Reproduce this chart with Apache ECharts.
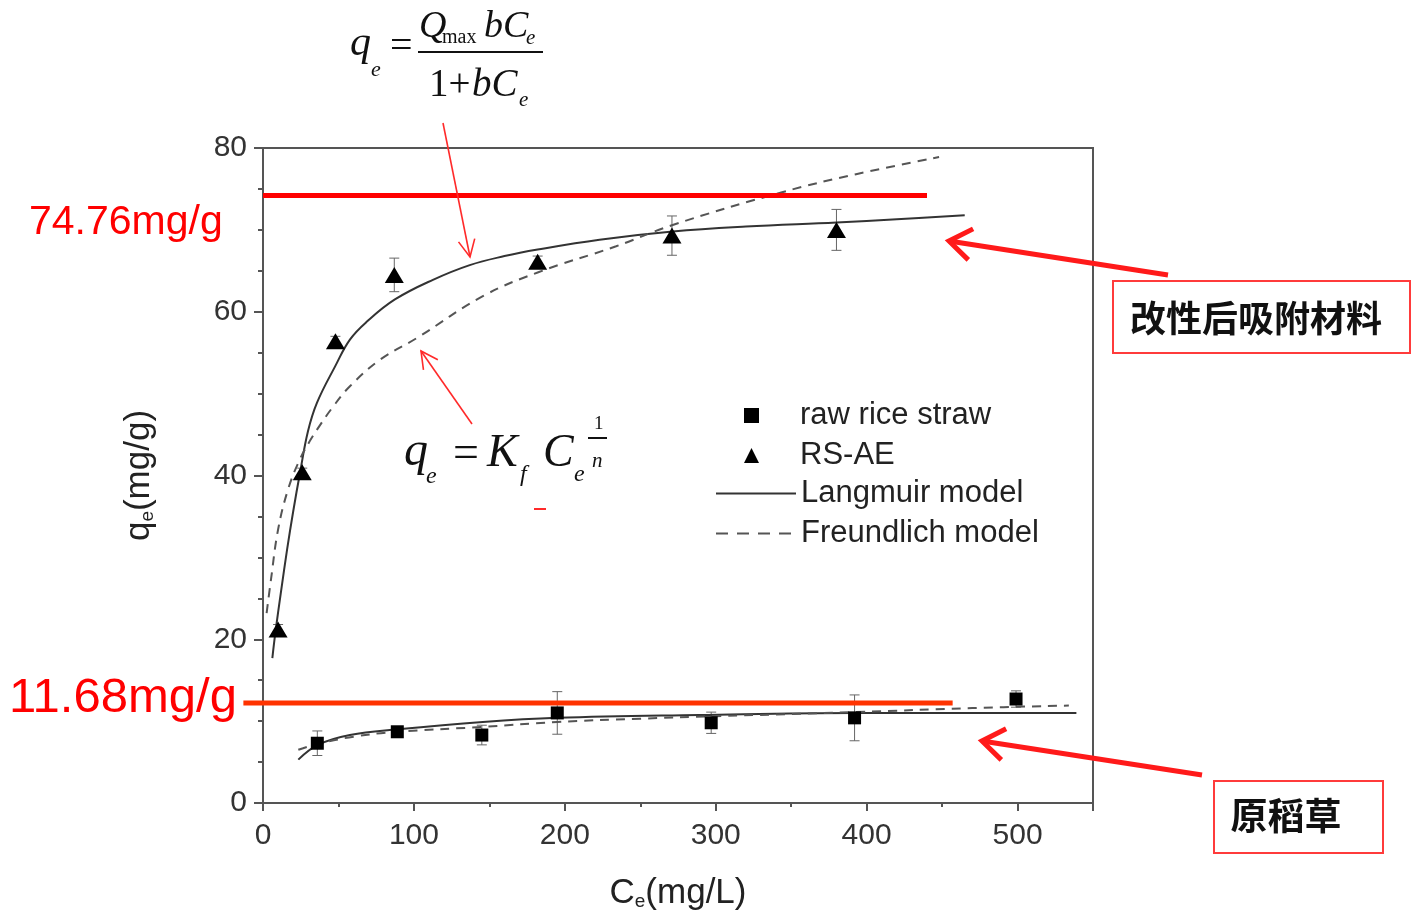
<!DOCTYPE html>
<html><head><meta charset="utf-8">
<script src="https://cdn.jsdelivr.net/npm/echarts@6/dist/echarts.min.js"></script>
<style>html,body{margin:0;padding:0;background:#fff}#c{width:1412px;height:922px}</style>
</head><body><div id="c"></div>
<script>
// ---- measured data ----
const rawCe  = [36, 89, 145, 195, 297, 392, 499];
const rawQe  = [7.3, 8.7, 8.3, 11.0, 9.8, 10.4, 12.7];
const rawErr = [1.5, 0.6, 1.2, 2.6, 1.3, 2.8, 1.0];

const rsCe  = [10, 26, 48, 87, 182, 271, 380];
const rsQe  = [21.2, 40.4, 56.4, 64.5, 66.1, 69.3, 70.0];
const rsErr = [0.6, 0.5, 0.6, 2.05, 0.7, 2.4, 2.5];

const langRsCe = [6.2, 8.4, 12, 16, 20, 24.5, 29.8, 35.8, 47.7, 57.6, 68.9, 87.4, 112.6, 137, 160, 182, 223, 271.5, 320, 380, 420, 465];
const langRsQe = [17.7, 21.1, 25.9, 31.0, 35.6, 40.3, 45.4, 48.9, 53.3, 56.6, 58.8, 61.5, 63.9, 65.7, 66.8, 67.6, 68.8, 69.8, 70.4, 70.9, 71.3, 71.8];

const freRsCe = [2.4, 5.3, 10, 16.6, 24, 31, 35.8, 46, 57.6, 78, 102, 145.7, 182, 234, 271.5, 344, 393, 448];
const freRsQe = [23.2, 27.3, 33.4, 38.3, 41.8, 44.2, 45.6, 48.3, 50.9, 54.2, 56.8, 61.9, 64.8, 68.0, 70.6, 74.6, 76.8, 78.9];

const langRawCe = [23.4, 36.4, 57.6, 89.4, 145.7, 194.7, 289, 392, 539];
const langRawQe = [5.3, 7.1, 8.3, 9.0, 9.9, 10.4, 10.75, 11.0, 11.0];

const freRawCe = [23.4, 36, 60, 89, 146, 195, 250, 300, 392, 470, 534];
const freRawQe = [6.5, 7.2, 8.1, 8.7, 9.3, 9.9, 10.3, 10.6, 11.1, 11.6, 11.9];

// annotation lines (data space): [x1, y1, x2, y2]
const qmaxRsLine  = [0, 74.2, 440, 74.2];
const qmaxRawLine = [-13, 12.2, 457, 12.2];

const xTicks = { min: 0, max: 550, interval: 100 };
const yTicks = { min: 0, max: 80, interval: 20 };

const zip = (a, b) => a.map((v, i) => [v, b[i]]);

const chart = echarts.init(document.getElementById('c'), null, { renderer: 'canvas' });

function errSeries(ce, q, err, name) {
  return {
    type: 'custom', name: name, silent: true, z: 1,
    encode: { x: 0, y: [1, 2] },
    data: ce.map((c, i) => [c, q[i] - err[i], q[i] + err[i]]),
    renderItem: function (params, api) {
      const lo = api.coord([api.value(0), api.value(1)]);
      const hi = api.coord([api.value(0), api.value(2)]);
      const w = 5, st = { stroke: '#666', lineWidth: 1 };
      return { type: 'group', children: [
        { type: 'line', shape: { x1: lo[0], y1: lo[1], x2: hi[0], y2: hi[1] }, style: st },
        { type: 'line', shape: { x1: lo[0] - w, y1: lo[1], x2: lo[0] + w, y2: lo[1] }, style: st },
        { type: 'line', shape: { x1: hi[0] - w, y1: hi[1], x2: hi[0] + w, y2: hi[1] }, style: st }
      ]};
    }
  };
}

function hLineSeries(name, seg, color) {
  return {
    type: 'custom', name: name, silent: true, z: 6, clip: false,
    encode: { x: [0, 2], y: [1, 3] },
    data: [seg],
    renderItem: function (params, api) {
      const a = api.coord([api.value(0), api.value(1)]);
      const b = api.coord([api.value(2), api.value(3)]);
      return { type: 'line', shape: { x1: a[0], y1: a[1], x2: b[0], y2: b[1] }, style: { stroke: color, lineWidth: 5 } };
    }
  };
}

function lineSeries(name, ce, q, dashed) {
  return {
    type: 'line', name: name, data: zip(ce, q), symbol: 'none', smooth: 0.4,
    z: 3, silent: true,
    itemStyle: { color: dashed ? '#555' : '#333' },
    lineStyle: { color: dashed ? '#555' : '#333', width: 2, type: dashed ? [9, 7] : 'solid' }
  };
}

function arrow(x1, y1, x2, y2, w, head, ang, color) {
  const a = Math.atan2(y2 - y1, x2 - x1);
  const p1 = [x2 - head * Math.cos(a - ang), y2 - head * Math.sin(a - ang)];
  const p2 = [x2 - head * Math.cos(a + ang), y2 - head * Math.sin(a + ang)];
  return [
    { type: 'line', shape: { x1: x1, y1: y1, x2: x2, y2: y2 }, style: { stroke: color, lineWidth: w }, z: 100 },
    { type: 'polyline', shape: { points: [p1, [x2, y2], p2] }, style: { stroke: color, lineWidth: w, fill: null, lineJoin: 'miter' }, z: 100 }
  ];
}

const serif = '"Liberation Serif", "DejaVu Serif", serif';
// y = visual middle of the em box
function t(x, y, text, size, italic) {
  return {
    type: 'text', x: x, y: y, z: 100,
    style: { text: text, fontFamily: serif, fontSize: size, fontStyle: italic ? 'italic' : 'normal',
      fill: '#111', verticalAlign: 'middle', align: 'left' }
  };
}

const graphics = [].concat(
  // formula 1 (Langmuir)
  [
    t(350, 44, 'q', 42, true), t(371, 70, 'e', 22, true),
    t(390, 47, '=', 40, false),
    t(419, 27, 'Q', 38, true), t(442, 38, 'max', 20, false),
    t(484, 27, 'bC', 38, true), t(526, 38, 'e', 21, true),
    { type: 'line', shape: { x1: 418, y1: 52, x2: 543, y2: 52 }, style: { stroke: '#111', lineWidth: 2 }, z: 100 },
    t(429, 86, '1+', 39, false), t(472, 86, 'bC', 39, true), t(519, 100, 'e', 21, true)
  ],
  // formula 2 (Freundlich)
  [
    t(404, 452, 'q', 48, true), t(426, 477, 'e', 24, true),
    t(453, 455, '=', 46, false),
    t(487, 454, 'K', 46, true), t(520, 475, 'f', 24, true),
    t(543, 454, 'C', 46, true), t(574, 475, 'e', 24, true),
    t(594, 424, '1', 19, false),
    { type: 'line', shape: { x1: 588, y1: 438, x2: 607, y2: 438 }, style: { stroke: '#111', lineWidth: 2 }, z: 100 },
    t(592, 461, 'n', 21, true),
    { type: 'line', shape: { x1: 534, y1: 509, x2: 546, y2: 509 }, style: { stroke: '#ff2a2a', lineWidth: 2 }, z: 100 }
  ],
  // value labels
  [
    { type: 'text', x: 29, y: 223, z: 100, style: { text: '74.76mg/g', fontFamily: '"Liberation Sans", Arial, sans-serif', fontSize: 41, fill: '#ff0000', verticalAlign: 'middle' } },
    { type: 'text', x: 9, y: 698, z: 100, style: { text: '11.68mg/g', fontFamily: '"Liberation Sans", Arial, sans-serif', fontSize: 49, fill: '#ff0000', verticalAlign: 'middle' } }
  ],
  // boxes
  [
    { type: 'rect', shape: { x: 1113, y: 281, width: 297, height: 72 }, style: { fill: '#fff', stroke: '#ff3b3b', lineWidth: 2 }, z: 90 },
    { type: 'text', x: 1256, y: 318, z: 100, style: { text: '改性后吸附材料', fontFamily: '"Noto Sans CJK SC", sans-serif', fontWeight: 'bold', fontSize: 36, fill: '#111', align: 'center', verticalAlign: 'middle' } },
    { type: 'rect', shape: { x: 1214, y: 781, width: 169, height: 72 }, style: { fill: '#fff', stroke: '#ff3b3b', lineWidth: 2 }, z: 90 },
    { type: 'text', x: 1286, y: 816, z: 100, style: { text: '原稻草', fontFamily: '"Noto Sans CJK SC", sans-serif', fontWeight: 'bold', fontSize: 37, fill: '#111', align: 'center', verticalAlign: 'middle' } }
  ],
  arrow(1168, 275, 949, 241, 5, 27, 0.62, '#ff1a1a'),
  arrow(1202, 775, 982, 741, 5, 27, 0.62, '#ff1a1a'),
  arrow(443, 123, 470, 257, 1.6, 19, 0.45, '#ff2a2a'),
  arrow(472, 424, 421, 351, 1.6, 19, 0.48, '#ff2a2a')
);

const axisFont = '"Liberation Sans", Arial, sans-serif';
const legendText = { fontSize: 31, color: '#222', fontFamily: axisFont, lineHeight: 30 };

chart.setOption({
  animation: false,
  backgroundColor: '#fff',
  grid: { left: 263, right: 319, top: 148, bottom: 119, show: true, borderColor: '#555', borderWidth: 2, containLabel: false },
  legend: [
    {
      data: ['raw rice straw', 'RS-AE'],
      orient: 'vertical', left: 739, top: 395, itemWidth: 15, itemHeight: 15, itemGap: 9,
      selectedMode: false,
      textStyle: Object.assign({ padding: [0, 0, 0, 36] }, legendText)
    },
    {
      data: [
        { name: 'Langmuir model', itemStyle: { opacity: 0 } },
        { name: 'Freundlich model', itemStyle: { opacity: 0 }, lineStyle: { type: [12, 9] } }
      ],
      orient: 'vertical', left: 710, top: 473, itemWidth: 80, itemHeight: 15, itemGap: 9,
      selectedMode: false,
      textStyle: legendText
    }
  ],
  xAxis: {
    type: 'value', min: xTicks.min, max: xTicks.max, interval: xTicks.interval,
    name: 'C{s|e}(mg/L)', nameLocation: 'middle', nameGap: 73,
    nameTextStyle: { fontSize: 35, color: '#222', fontFamily: axisFont,
      rich: { s: { fontSize: 19, color: '#222', fontFamily: axisFont, verticalAlign: 'bottom', padding: [14, 0, 0, 0] } } },
    axisLine: { lineStyle: { color: '#555', width: 2 } },
    axisTick: { show: true, inside: false, length: 8, lineStyle: { color: '#555', width: 2 } },
    minorTick: { show: true, splitNumber: 2, length: 4, lineStyle: { color: '#555', width: 2 } },
    splitLine: { show: false },
    axisLabel: { fontSize: 30, color: '#333', fontFamily: axisFont, margin: 18, showMaxLabel: false }
  },
  yAxis: {
    type: 'value', min: yTicks.min, max: yTicks.max, interval: yTicks.interval,
    name: 'q{s|e}(mg/g)', nameLocation: 'middle', nameGap: 106, nameRotate: 90,
    nameTextStyle: { fontSize: 35, color: '#222', fontFamily: axisFont,
      rich: { s: { fontSize: 19, color: '#222', fontFamily: axisFont, verticalAlign: 'bottom', padding: [14, 0, 0, 0] } } },
    axisLine: { lineStyle: { color: '#555', width: 2 } },
    axisTick: { show: true, inside: false, length: 9, lineStyle: { color: '#555', width: 2 } },
    minorTick: { show: true, splitNumber: 4, length: 5, lineStyle: { color: '#555', width: 2 } },
    splitLine: { show: false },
    axisLabel: { fontSize: 30, color: '#333', fontFamily: axisFont, margin: 16 }
  },
  series: [
    lineSeries('Langmuir model', langRawCe, langRawQe, false),
    lineSeries('Langmuir model', langRsCe, langRsQe, false),
    lineSeries('Freundlich model', freRawCe, freRawQe, true),
    lineSeries('Freundlich model', freRsCe, freRsQe, true),
    errSeries(rawCe, rawQe, rawErr, 'err-raw'),
    errSeries(rsCe, rsQe, rsErr, 'err-rs'),
    { type: 'scatter', name: 'raw rice straw', data: zip(rawCe, rawQe), symbol: 'rect', symbolSize: 13, z: 5,
      itemStyle: { color: '#000', opacity: 1 } },
    { type: 'scatter', name: 'RS-AE', data: zip(rsCe, rsQe), symbol: 'triangle', symbolSize: [19, 16], z: 5,
      itemStyle: { color: '#000', opacity: 1 } },
    hLineSeries('qmax-rs', qmaxRsLine, '#ff0000'),
    hLineSeries('qmax-raw', qmaxRawLine, '#ff3300')
  ],
  graphic: graphics
});
</script></body></html>
